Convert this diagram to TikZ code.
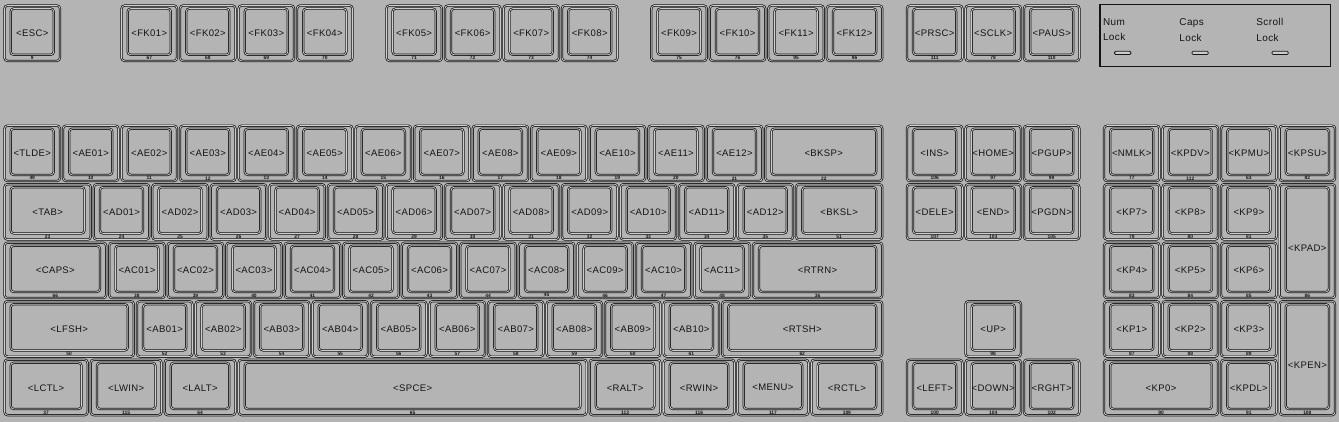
\documentclass[tikz,border=0pt]{standalone}
\usepackage{fontspec}
\setmainfont{Liberation Sans}
\newfontfamily\keyfont[LetterSpace=4]{Liberation Sans}
\newfontfamily\ledfont[LetterSpace=4]{Liberation Sans}
\definecolor{bg}{RGB}{180,180,180}
\definecolor{ln}{RGB}{20,20,20}
\definecolor{dl}{RGB}{205,205,205}
\tikzset{
  keyout/.style={draw=ln, double=dl, double distance=0.25mm, line width=0.24mm,
    rounded corners=1mm, anchor=north west, inner sep=0, outer sep=0},
  keyin/.style={keyout},
  lbl/.style={font=\keyfont\fontsize{8.8}{9}\selectfont, inner sep=0, text=ln},
  code/.style={font=\fontsize{4.5}{4.5}\selectfont\bfseries, inner sep=0, text=ln},
  ledtxt/.style={font=\ledfont\fontsize{9.2}{14.7}\selectfont, align=left, inner sep=0, anchor=north west, text=ln},
  led/.style={draw=ln, fill=dl, line width=0.25mm, minimum width=5.3mm, minimum height=1.1mm,
    rounded corners=0.4mm, anchor=north west, inner sep=0},
}
\newcommand\kk[5]{%
  \node[keyout, minimum width=#4mm, minimum height=18mm] (#1) at (#2,-#3) {};
  \node[keyin, minimum width=#4mm-4mm, minimum height=15mm] (#1i) at (#2+2,-#3-1) {};
  \node[lbl] (#1l) at (#2+#4/2,-#3-9.1) {<#1>};
  \node[code] (#1c) at (#2+#4/2,-#3-17.1) {#5};
}
\newcommand\kt[4]{%
  \node[keyout, minimum width=18mm, minimum height=37mm] (#1) at (#2,-#3) {};
  \node[keyin, minimum width=14mm, minimum height=34mm] (#1i) at (#2+2,-#3-1) {};
  \node[lbl] (#1l) at (#2+9,-#3-20.7) {<#1>};
  \node[code] (#1c) at (#2+9,-#3-36.1) {#4};
}
\begin{document}
\begin{tikzpicture}[x=1mm,y=1mm]
\useasboundingbox[fill=bg] (-0.46,1.79) rectangle (434.28,-135.22);
% function row
\foreach \k/\x/\c in {ESC/1/9, FK01/39/67, FK02/58/68, FK03/77/69, FK04/96/70,
  FK05/125/71, FK06/144/72, FK07/163/73, FK08/182/74,
  FK09/211/75, FK10/230/76, FK11/249/95, FK12/268/96,
  PRSC/294/111, SCLK/313/78, PAUS/332/110}
  {\kk{\k}{\x}{0}{18}{\c}}
% row E
\kk{TLDE}{1}{39}{18}{49}
\foreach \k/\x/\c in {AE01/20/10, AE02/39/11, AE03/58/12, AE04/77/13, AE05/96/14,
  AE06/115/15, AE07/134/16, AE08/153/17, AE09/172/18, AE10/191/19, AE11/210/20, AE12/229/21}
  {\kk{\k}{\x}{39}{18}{\c}}
\kk{BKSP}{248}{39}{38}{22}
% row D
\kk{TAB}{1}{58}{28}{23}
\foreach \k/\x/\c in {AD01/30/24, AD02/49/25, AD03/68/26, AD04/87/27, AD05/106/28,
  AD06/125/29, AD07/144/30, AD08/163/31, AD09/182/32, AD10/201/33, AD11/220/34, AD12/239/35}
  {\kk{\k}{\x}{58}{18}{\c}}
\kk{BKSL}{258}{58}{28}{51}
% row C
\kk{CAPS}{1}{77}{33}{66}
\foreach \k/\x/\c in {AC01/35/38, AC02/54/39, AC03/73/40, AC04/92/41, AC05/111/42,
  AC06/130/43, AC07/149/44, AC08/168/45, AC09/187/46, AC10/206/47, AC11/225/48}
  {\kk{\k}{\x}{77}{18}{\c}}
\kk{RTRN}{244}{77}{42}{36}
% row B
\kk{LFSH}{1}{96}{42}{50}
\foreach \k/\x/\c in {AB01/44/52, AB02/63/53, AB03/82/54, AB04/101/55, AB05/120/56,
  AB06/139/57, AB07/158/58, AB08/177/59, AB09/196/60, AB10/215/61}
  {\kk{\k}{\x}{96}{18}{\c}}
\kk{RTSH}{234}{96}{52}{62}
% row A
\kk{LCTL}{1}{115}{27}{37}
\kk{LWIN}{29}{115}{23}{115}
\kk{LALT}{53}{115}{23}{64}
\kk{SPCE}{77}{115}{113}{65}
\kk{RALT}{191}{115}{23}{113}
\kk{RWIN}{215}{115}{23}{116}
\kk{MENU}{239}{115}{23}{117}
\kk{RCTL}{263}{115}{23}{109}
% editing
\kk{INS}{294}{39}{18}{106}
\kk{HOME}{313}{39}{18}{97}
\kk{PGUP}{332}{39}{18}{99}
\kk{DELE}{294}{58}{18}{107}
\kk{END}{313}{58}{18}{103}
\kk{PGDN}{332}{58}{18}{105}
\kk{UP}{313}{96}{18}{98}
\kk{LEFT}{294}{115}{18}{100}
\kk{DOWN}{313}{115}{18}{104}
\kk{RGHT}{332}{115}{18}{102}
% keypad
\kk{NMLK}{358}{39}{18}{77}
\kk{KPDV}{377}{39}{18}{112}
\kk{KPMU}{396}{39}{18}{63}
\kk{KPSU}{415}{39}{18}{82}
\kk{KP7}{358}{58}{18}{79}
\kk{KP8}{377}{58}{18}{80}
\kk{KP9}{396}{58}{18}{81}
\kt{KPAD}{415}{58}{86}
\kk{KP4}{358}{77}{18}{83}
\kk{KP5}{377}{77}{18}{84}
\kk{KP6}{396}{77}{18}{85}
\kk{KP1}{358}{96}{18}{87}
\kk{KP2}{377}{96}{18}{88}
\kk{KP3}{396}{96}{18}{89}
\kt{KPEN}{415}{96}{108}
\kk{KP0}{358}{115}{37}{90}
\kk{KPDL}{396}{115}{18}{91}
% LED panel
\node[draw=ln, line width=0.45mm, minimum width=74.9mm, minimum height=20mm,
  anchor=north west, inner sep=0] (leds) at (356.4,0.5) {};
\node[ledtxt] (numlbl) at (357.6,-4.06) {Num\\Lock};
\node[ledtxt] (capslbl) at (382.4,-4.06) {Caps\\Lock};
\node[ledtxt] (scrlbl) at (407.4,-4.06) {Scroll\\Lock};
\node[led] (numled) at (361.3,-14.7) {};
\node[led] (capsled) at (386.4,-14.7) {};
\node[led] (scrled) at (412.4,-14.7) {};
\end{tikzpicture}
\end{document}
